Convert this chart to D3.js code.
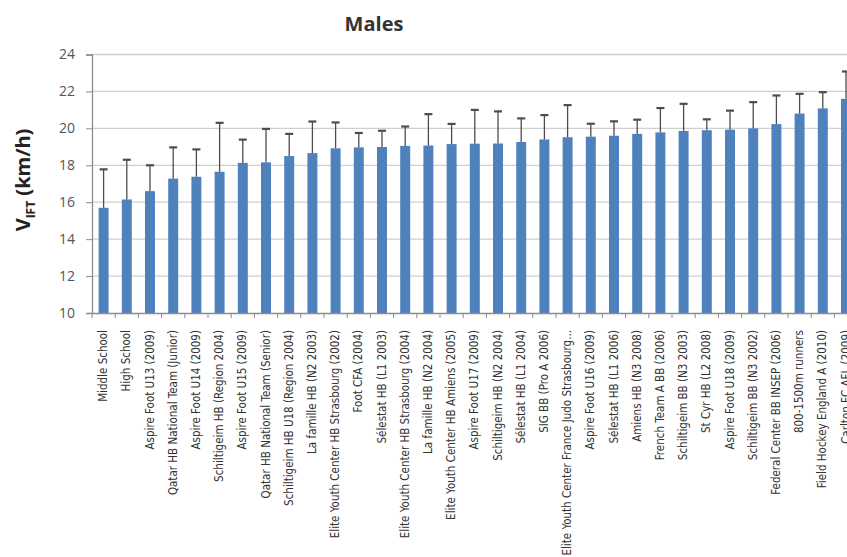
<!DOCTYPE html>
<html>
<head>
<meta charset="utf-8">
<script src="https://cdn.jsdelivr.net/npm/d3@7/dist/d3.min.js"></script>
<style>
  html, body { margin: 0; padding: 0; background: #fff; overflow: hidden; }
  svg { display: block; }
</style>
</head>
<body>
<svg id="chart" width="847" height="557"></svg>
<script>
const categories = [
  "Middle School", "High School", "Aspire Foot U13 (2009)", "Qatar HB National Team (Junior)",
  "Aspire Foot U14 (2009)", "Schiltigeim HB (Region 2004)", "Aspire Foot U15 (2009)",
  "Qatar HB National Team (Senior)", "Schiltigeim HB U18 (Region 2004)", "La famille HB (N2 2003)",
  "Elite Youth Center HB Strasbourg (2002)", "Foot CFA (2004)", "Sélestat HB (L1 2003)",
  "Elite Youth Center HB Strasbourg (2004)", "La famille HB  (N2 2004)", "Elite Youth Center HB Amiens (2005)",
  "Aspire Foot U17 (2009)", "Schiltigeim HB (N2 2004)", "Sélestat HB (L1 2004)", "SIG BB (Pro A 2006)",
  "Elite Youth Center France Judo Strasbourg...", "Aspire Foot U16  (2009)", "Sélestat HB (L1 2006)",
  "Amiens HB (N3 2008)", "French Team A BB (2006)", "Schiltigeim BB (N3 2003)", "St Cyr HB (L2 2008)",
  "Aspire Foot U18 (2009)", "Schiltigeim BB  (N3 2002)", "Federal Center BB INSEP (2006)",
  "800-1500m runners", "Field Hockey England A (2010)", "Carlton FC AFL (2009)"
];
const means = [
  15.7, 16.15, 16.6, 17.28, 17.38, 17.65, 18.13, 18.16, 18.5, 18.66,
  18.92, 18.97, 18.99, 19.05, 19.07, 19.15, 19.17, 19.18, 19.26, 19.4,
  19.52, 19.55, 19.6, 19.7, 19.78, 19.86, 19.9, 19.93, 20.0, 20.23,
  20.8, 21.08, 21.6
];
const upper = [
  17.78, 18.3, 18.0, 18.97, 18.86, 20.3, 19.39, 19.97, 19.7, 20.37,
  20.32, 19.75, 19.87, 20.1, 20.77, 20.24, 21.0, 20.92, 20.54, 20.72,
  21.26, 20.25, 20.38, 20.47, 21.1, 21.33, 20.49, 20.96, 21.42, 21.78,
  21.87, 21.96, 23.08
];
const yTicks = [10, 12, 14, 16, 18, 20, 22, 24];
const titleText = "Males";

const svg = d3.select("#chart");
const mLeft = 92, mTop = 54.5, mBottom = 313, mRight = 92 + 33 * 23.2;

const x = d3.scaleBand().domain(categories).range([mLeft, mRight]).paddingInner(0.57).paddingOuter(0.285);
const y = d3.scaleLinear().domain([10, 24]).range([mBottom, mTop]);

// gridlines
svg.append("g").selectAll("line").data(yTicks.slice(1)).join("line")
  .attr("x1", mLeft).attr("x2", 867)
  .attr("y1", d => y(d)).attr("y2", d => y(d))
  .attr("stroke", "#cfcfcf").attr("stroke-width", 1.3);

// bars
svg.append("g").selectAll("rect").data(categories).join("rect")
  .attr("x", d => x(d))
  .attr("width", x.bandwidth())
  .attr("y", (d, i) => y(means[i]))
  .attr("height", (d, i) => y(10) - y(means[i]))
  .attr("fill", "#4f81bd");

// error bars
const eb = svg.append("g").attr("stroke", "#4d4d4d").attr("stroke-width", 1.3);
categories.forEach((c, i) => {
  const cx = x(c) + x.bandwidth() / 2;
  eb.append("line").attr("x1", cx).attr("x2", cx).attr("y1", y(means[i])).attr("y2", y(upper[i]));
  eb.append("line").attr("x1", cx - 4).attr("x2", cx + 4).attr("y1", y(upper[i])).attr("y2", y(upper[i])).attr("stroke-width", 2.2);
});

// y axis
const yAxis = svg.append("g").attr("transform", `translate(${mLeft},0)`)
  .call(d3.axisLeft(y).tickValues(yTicks).tickSize(6).tickPadding(11));
yAxis.select(".domain").attr("stroke", "#8c8c8c").attr("stroke-width", 1.3);
yAxis.selectAll(".tick line").attr("stroke", "#8c8c8c");
yAxis.selectAll(".tick text")
  .attr("fill", "#555")
  .style("font-family", "'Open Sans', Arial, sans-serif")
  .style("font-size", "14px");

// x axis
const xAxis = svg.append("g").attr("transform", `translate(0,${mBottom})`)
  .call(d3.axisBottom(x).tickSize(0).tickFormat(""));
xAxis.select(".domain").attr("stroke", "#8c8c8c").attr("stroke-width", 1.3);
const step = x.step();
svg.append("g").selectAll("line").data(d3.range(categories.length + 1)).join("line")
  .attr("x1", d => mLeft + d * step).attr("x2", d => mLeft + d * step)
  .attr("y1", mBottom).attr("y2", mBottom + 5)
  .attr("stroke", "#8c8c8c");

// x labels
svg.append("g").selectAll("text").data(categories).join("text")
  .attr("transform", d => `translate(${x(d) + x.bandwidth() / 2 + 3.5},330) rotate(-90)`)
  .attr("text-anchor", "end")
  .attr("fill", "#333")
  .style("font-family", "'Liberation Sans Narrow', 'DejaVu Sans Condensed', Arial, sans-serif")
  .style("font-size", "11.5px")
  .text(d => d);

// title
svg.append("text").attr("x", 374).attr("y", 31).attr("text-anchor", "middle")
  .attr("fill", "#333")
  .style("font-family", "'Open Sans', Arial, sans-serif")
  .style("font-weight", "bold").style("font-size", "20px")
  .text(titleText);

// y label
const yl = svg.append("text").attr("transform", "translate(30,180) rotate(-90)")
  .attr("text-anchor", "middle").attr("fill", "#222")
  .style("font-family", "'Open Sans', Arial, sans-serif")
  .style("font-weight", "bold").style("font-size", "20px");
yl.append("tspan").text("V");
yl.append("tspan").attr("dy", 5).style("font-size", "12px").text("IFT");
yl.append("tspan").attr("dy", -5).text(" (km/h)");
</script>
</body>
</html>
